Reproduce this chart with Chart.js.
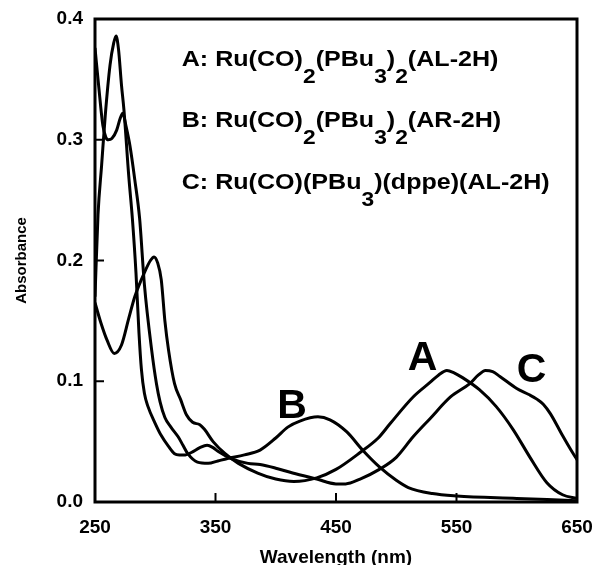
<!DOCTYPE html>
<html lang="en">
<head>
    <meta charset="UTF-8">
    <title>Absorbance spectra</title>
    <script src="https://cdn.jsdelivr.net/npm/chart.js"></script>
    <style>
        body { margin: 0; background: #fff; }
    </style>
</head>
<body>
    <canvas id="chart" width="594" height="565"></canvas>

    <script>
        // curve A: Ru(CO)2(PBu3)2(AL-2H)
        const waveA = [250, 255, 260, 266, 272, 278, 283, 291, 296, 299, 302, 305, 308, 311, 316, 321, 326, 331, 337, 341, 348, 358, 369, 385, 400, 415, 434, 450, 470, 485, 495, 514, 528, 535, 542, 548, 555, 569, 583, 597, 611, 625, 638, 650];
        const absA  = [0.165, 0.148, 0.134, 0.123, 0.130, 0.152, 0.170, 0.190, 0.200, 0.203, 0.198, 0.184, 0.150, 0.126, 0.098, 0.085, 0.072, 0.066, 0.064, 0.060, 0.050, 0.040, 0.032, 0.024, 0.019, 0.017, 0.020, 0.027, 0.041, 0.053, 0.065, 0.087, 0.099, 0.105, 0.109, 0.107, 0.103, 0.093, 0.079, 0.060, 0.037, 0.016, 0.006, 0.003];

        // curve B: Ru(CO)2(PBu3)2(AR-2H)
        const waveB = [250, 253, 256.5, 259, 261, 264, 268, 271, 273, 276, 279, 283, 287, 291, 297, 301, 304, 308, 313, 319, 323, 327, 335, 344, 352, 360, 374, 387, 400, 410, 420, 435, 445, 459, 472, 486, 500, 510, 530, 550, 600, 650];
        const absB  = [0.376, 0.345, 0.312, 0.302, 0.300, 0.301, 0.308, 0.318, 0.322, 0.310, 0.295, 0.267, 0.235, 0.180, 0.126, 0.098, 0.083, 0.070, 0.062, 0.054, 0.047, 0.040, 0.033, 0.032, 0.034, 0.036, 0.039, 0.043, 0.053, 0.062, 0.067, 0.0705, 0.068, 0.058, 0.043, 0.029, 0.018, 0.012, 0.007, 0.005, 0.003, 0.001];

        // curve C: Ru(CO)(PBu3)(dppe)(AL-2H)
        const waveC = [250, 252.5, 255.5, 258.5, 262.5, 265.5, 267.5, 269.5, 272, 274, 278, 281, 284, 286.5, 288.5, 291, 294, 300, 305, 311, 316, 320, 325, 330, 337, 343, 348, 352, 363, 377, 387, 400, 414, 434, 450, 458, 470, 486, 500, 514, 528, 545, 561, 568, 574, 580, 586, 600, 610, 617, 622, 628, 638, 645, 650];
        const absC  = [0.170, 0.238, 0.279, 0.320, 0.362, 0.380, 0.386, 0.375, 0.345, 0.325, 0.270, 0.235, 0.190, 0.140, 0.110, 0.090, 0.079, 0.065, 0.055, 0.046, 0.040, 0.039, 0.039, 0.041, 0.045, 0.047, 0.045, 0.042, 0.036, 0.032, 0.031, 0.028, 0.024, 0.019, 0.015, 0.015, 0.019, 0.027, 0.037, 0.054, 0.069, 0.087, 0.098, 0.105, 0.109, 0.108, 0.104, 0.094, 0.089, 0.085, 0.081, 0.073, 0.055, 0.043, 0.035];

        const xTicks = [250, 350, 450, 550, 650];
        const yTicks = [0.0, 0.1, 0.2, 0.3, 0.4];

        // legend rows: [text, isSubscript] pieces
        const legendRows = [
            [['A: Ru(CO)', 0], ['2', 1], ['(PBu', 0], ['3', 1], [')', 0], ['2', 1], ['(AL-2H)', 0]],
            [['B: Ru(CO)', 0], ['2', 1], ['(PBu', 0], ['3', 1], [')', 0], ['2', 1], ['(AR-2H)', 0]],
            [['C: Ru(CO)(PBu', 0], ['3', 1], [')(dppe)(AL-2H)', 0]]
        ];
        const legendY = [0.361, 0.3104, 0.259];
        const legendX = 322;

        const curveNames = ['A', 'B', 'C'];
        const curveLabelX = [521.8, 413.5, 612.2];
        const curveLabelY = [0.120, 0.081, 0.110];

        const FONT = '"Liberation Sans", Arial, sans-serif';

        function toPoints(xs, ys) {
            return xs.map((x, i) => ({ x: x, y: ys[i] }));
        }

        // drop the extra room chart.js keeps for the end labels
        function noEdgePadding(s) {
            s.paddingLeft = s.paddingRight = s.paddingTop = s.paddingBottom = 0;
        }

        // frame, inward ticks, legend text and curve letters
        const decorations = {
            id: 'decorations',
            afterDatasetsDraw(chart) {
                const { ctx, chartArea: a, scales: { x, y } } = chart;
                ctx.save();
                ctx.strokeStyle = '#000';
                ctx.fillStyle = '#000';

                ctx.lineWidth = 2;
                xTicks.slice(1, -1).forEach(v => {
                    const px = x.getPixelForValue(v);
                    ctx.beginPath();
                    ctx.moveTo(px, a.bottom);
                    ctx.lineTo(px, a.bottom - 9);
                    ctx.stroke();
                });
                yTicks.slice(1, -1).forEach(v => {
                    const py = y.getPixelForValue(v);
                    ctx.beginPath();
                    ctx.moveTo(a.left, py);
                    ctx.lineTo(a.left + 9, py);
                    ctx.stroke();
                });

                ctx.lineWidth = 3;
                ctx.strokeRect(a.left, a.top, a.right - a.left, a.bottom - a.top);

                // legend text with subscripts, a bit wide like the original
                ctx.textBaseline = 'alphabetic';
                ctx.textAlign = 'left';
                legendRows.forEach((row, r) => {
                    ctx.save();
                    ctx.translate(x.getPixelForValue(legendX), y.getPixelForValue(legendY[r]));
                    ctx.scale(1.14, 1);
                    let cx = 0;
                    row.forEach(([txt, sub]) => {
                        ctx.font = sub ? 'bold 20px ' + FONT : 'bold 22px ' + FONT;
                        ctx.fillText(txt, cx, sub ? 17 : 0);
                        cx += ctx.measureText(txt).width;
                    });
                    ctx.restore();
                });

                ctx.font = 'bold 41px ' + FONT;
                ctx.textAlign = 'center';
                ctx.textBaseline = 'middle';
                curveNames.forEach((n, i) => {
                    ctx.fillText(n, x.getPixelForValue(curveLabelX[i]), y.getPixelForValue(curveLabelY[i]) + 2);
                });
                ctx.restore();
            }
        };

        const lineStyle = {
            borderColor: '#000',
            borderWidth: 3,
            pointRadius: 0,
            fill: false,
            cubicInterpolationMode: 'monotone'
        };

        new Chart(document.getElementById('chart'), {
            type: 'line',
            data: {
                datasets: [
                    { label: 'A', data: toPoints(waveA, absA), ...lineStyle },
                    { label: 'B', data: toPoints(waveB, absB), ...lineStyle },
                    { label: 'C', data: toPoints(waveC, absC), ...lineStyle }
                ]
            },
            options: {
                responsive: false,
                animation: false,
                layout: { autoPadding: false, padding: { top: 19, right: 17, left: 0, bottom: 0 } },
                plugins: { legend: { display: false }, tooltip: { enabled: false } },
                scales: {
                    x: {
                        type: 'linear',
                        min: 250,
                        max: 650,
                        afterBuildTicks: s => { s.ticks = xTicks.map(v => ({ value: v })); },
                        afterFit: s => { s.height = 63; noEdgePadding(s); },
                        grid: { display: false, drawTicks: false },
                        border: { display: false },
                        ticks: { color: '#000', padding: 14, font: { family: FONT, size: 19, weight: 'bold' }, maxRotation: 0 },
                        title: { display: true, text: 'Wavelength (nm)', color: '#000', padding: 0, font: { family: FONT, size: 19, weight: 'bold', lineHeight: 0.8 } }
                    },
                    y: {
                        min: 0,
                        max: 0.4,
                        afterBuildTicks: s => { s.ticks = yTicks.map(v => ({ value: v })); },
                        afterFit: s => { s.width = 95; noEdgePadding(s); },
                        grid: { display: false, drawTicks: false },
                        border: { display: false },
                        ticks: { color: '#000', padding: 12, font: { family: FONT, size: 19, weight: 'bold' }, callback: v => v.toFixed(1) },
                        title: { display: true, text: 'Absorbance', color: '#000', padding: { top: 14, bottom: 0 }, font: { family: FONT, size: 15, weight: 'bold', lineHeight: 1 } }
                    }
                }
            },
            plugins: [decorations]
        });
    </script>
</body>
</html>
